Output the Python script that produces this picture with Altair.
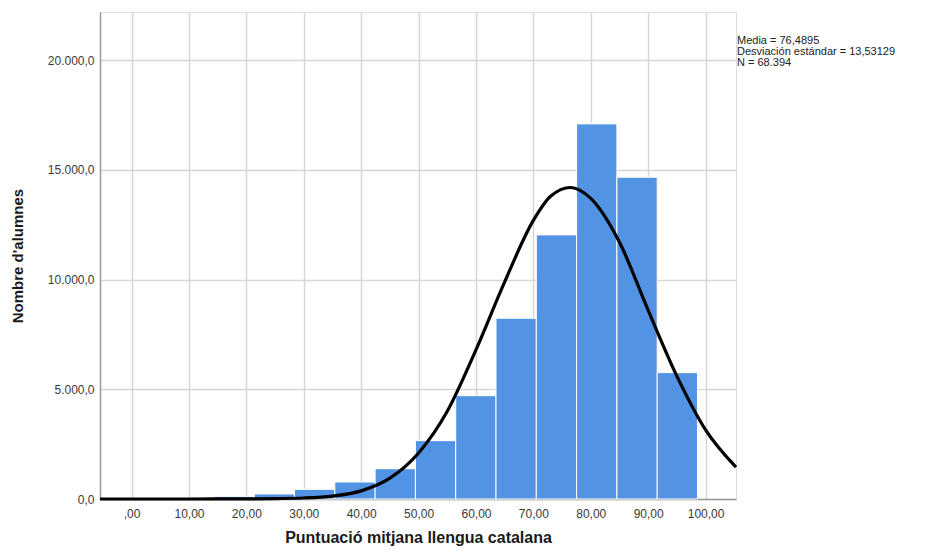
import altair as alt
import pandas as pd

# Histogram bins (score ranges) and counts
bin_start = [14.35, 21.37, 28.39, 35.41, 42.43, 49.45, 56.47, 63.49, 70.51, 77.53, 84.55, 91.57]
bin_end = [21.37, 28.39, 35.41, 42.43, 49.45, 56.47, 63.49, 70.51, 77.53, 84.55, 91.57, 98.59]
counts = [120, 230, 440, 775, 1380, 2660, 4710, 8240, 12040, 17100, 14670, 5760]

# Normal curve points
curve_x = [-5.5, 0, 10, 20, 25, 30, 35, 40, 45, 50, 55, 60, 65, 70, 73, 76.5, 80, 85, 90, 95, 100, 105.3]
curve_y = [0, 0, 1, 7, 20, 45, 130, 370, 950, 2100, 4000, 6800, 9900, 12700, 13800, 14200, 13700, 11700, 8600, 5600, 3150, 1450]

stats_lines = ["Media = 76,4895", "Desviación estándar = 13,53129", "N = 68.394"]

x_ticks = [0, 10, 20, 30, 40, 50, 60, 70, 80, 90, 100]
y_ticks = [0, 5000, 10000, 15000, 20000]

bars_df = pd.DataFrame({"start": bin_start, "end": bin_end, "count": counts})
curve_df = pd.DataFrame({"x": curve_x, "y": curve_y})
stats_df = pd.DataFrame({"t": ["\n".join(stats_lines)]})

FONT = "Liberation Sans"

x_scale = alt.Scale(domain=[-5.5, 105.3], nice=False, zero=False)
y_scale = alt.Scale(domain=[0, 22200], nice=False)

x_axis = alt.Axis(
    title="Puntuació mitjana llengua catalana",
    values=x_ticks,
    labelExpr="datum.value == 0 ? ',00' : replace(format(datum.value, '.2f'), '.', ',')",
    ticks=False, labelPadding=9, labelFontSize=12, labelColor="#3a3a3a", labelFont=FONT,
    titleFont=FONT, titleFontSize=16, titleFontWeight="bold", titleColor="#1a1a1a", titlePadding=10,
    grid=True, gridColor="#d6d6d6", gridWidth=1.5,
    domainColor="#9a9a9a", domainWidth=1.5,
)
y_axis = alt.Axis(
    title="Nombre d'alumnes",
    values=y_ticks,
    labelExpr="replace(replace(replace(format(datum.value, ',.1f'), ',', '_'), '.', ','), '_', '.')",
    ticks=False, labelPadding=6, labelFontSize=12, labelColor="#3a3a3a", labelFont=FONT,
    titleFont=FONT, titleFontSize=15, titleFontWeight="bold", titleColor="#1a1a1a", titlePadding=22,
    grid=True, gridColor="#d6d6d6", gridWidth=1.5,
    domainColor="#9a9a9a", domainWidth=1.5,
)

bars = alt.Chart(bars_df).mark_rect(color="#5393e3", stroke="#ffffff", strokeWidth=1).encode(
    x=alt.X("start:Q", scale=x_scale, axis=x_axis),
    x2="end:Q",
    y=alt.Y("count:Q", scale=y_scale, axis=y_axis),
    y2=alt.datum(0),
)

curve = alt.Chart(curve_df).mark_line(color="#000000", strokeWidth=3.2, interpolate="monotone").encode(
    x=alt.X("x:Q", scale=x_scale),
    y=alt.Y("y:Q", scale=y_scale),
)

stats = alt.Chart(stats_df).mark_text(
    align="left", baseline="top", font=FONT, fontSize=11, lineHeight=11,
    lineBreak="\n", color="#222222"
).encode(
    x=alt.value(637), y=alt.value(23), text="t:N"
)

chart = alt.layer(bars, curve, stats).properties(
    width=636, height=487,
    autosize=alt.AutoSizeParams(type="none"),
    padding={"left": 92, "top": 4, "right": 185, "bottom": 50},
).configure_view(strokeWidth=0).configure(background="#ffffff")

chart.save("out.html", embed_options={"renderer": "svg", "actions": False})
